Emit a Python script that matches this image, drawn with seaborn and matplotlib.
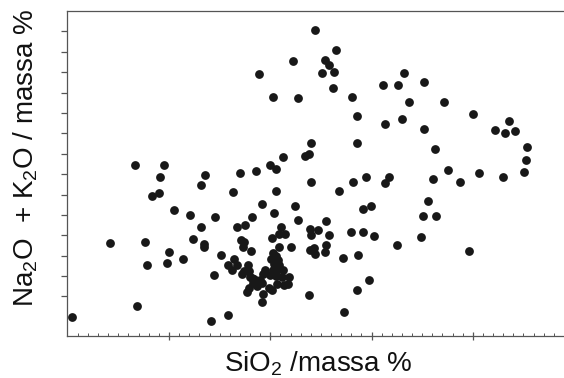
import numpy as np
import pandas as pd
import matplotlib
matplotlib.use("Agg")
import matplotlib.pyplot as plt
from matplotlib.ticker import FixedLocator
import seaborn as sns

# SiO2 (massa %) for each sample
sio2 = [
    40.47, 44.13, 46.64, 46.81, 47.66, 47.86, 48.29, 49.04, 49.11, 49.54,
    49.80, 50.03, 50.49, 51.38, 52.07, 52.40, 53.19, 53.16, 53.45, 53.48,
    53.52, 54.18, 54.47, 54.51, 55.16, 55.79, 56.32, 56.39, 55.85, 56.19,
    56.68, 57.01, 56.71, 57.50, 57.14, 57.43, 57.33, 58.09, 58.22, 58.59,
    59.18, 59.97, 60.56, 60.56, 60.39, 61.28, 61.03, 60.83, 61.42, 60.20,
    60.86, 62.04, 62.47, 62.73, 57.21, 57.37, 57.83, 57.93, 58.00, 58.19,
    58.42, 58.32, 58.66, 57.87, 57.67, 58.98, 59.18, 59.25, 59.48, 59.31,
    59.21, 59.97, 60.24, 60.69, 61.22, 60.56, 61.13, 61.85, 61.75, 61.35,
    60.63, 60.17, 59.84, 60.24, 60.56, 60.07, 60.79, 60.37, 60.89, 63.46,
    63.85, 64.02, 64.05, 63.92, 64.02, 64.74, 63.89, 64.34, 64.44, 63.85,
    65.53, 65.77, 65.50, 65.40, 66.81, 67.15, 67.25, 67.97, 68.19, 68.53,
    68.63, 68.53, 69.12, 69.18, 69.45, 69.71, 69.94, 70.27, 71.32, 71.75,
    72.48, 74.85, 75.07, 75.60, 76.03, 76.29, 76.36, 77.57, 78.73, 79.62,
    80.57, 82.97, 85.07, 85.24, 85.31, 64.41, 66.52, 62.24, 65.43, 65.79,
    65.13, 66.26, 58.91, 66.16, 60.24, 62.70, 68.04, 68.59, 71.16, 72.64,
    73.17, 75.14, 73.69, 77.12, 71.29, 73.00, 75.17, 79.98, 83.53, 82.21,
    83.17, 84.16,
]

# Na2O + K2O (massa %) for each sample
alkali = [
    0.99, 4.62, 8.45, 1.52, 4.69, 3.53, 6.93, 7.08, 7.87, 8.45,
    3.63, 4.17, 6.26, 3.82, 6.01, 4.80, 7.47, 5.43, 4.58, 4.41,
    7.96, 0.81, 3.03, 5.92, 4.01, 1.07, 7.13, 3.84, 3.52, 3.29,
    3.52, 8.06, 5.41, 5.49, 4.79, 4.66, 4.41, 4.22, 5.88, 8.15,
    6.52, 8.43, 8.27, 7.19, 6.11, 8.82, 5.41, 5.07, 5.07, 4.87,
    4.41, 4.41, 6.45, 5.73, 3.11, 3.24, 3.52, 3.24, 2.96, 2.91,
    2.86, 2.67, 2.50, 2.40, 2.23, 2.83, 2.67, 3.08, 3.29, 2.13,
    1.74, 3.03, 3.29, 3.29, 3.29, 2.99, 2.96, 2.93, 2.59, 2.55,
    2.63, 2.34, 2.42, 4.14, 3.97, 3.84, 3.81, 3.61, 3.52, 8.87,
    9.00, 9.55, 7.62, 5.33, 4.99, 5.28, 4.30, 4.38, 4.07, 2.05,
    5.71, 4.99, 4.54, 4.20, 7.17, 3.91, 1.25, 5.15, 7.60, 9.52,
    4.04, 2.31, 5.15, 6.31, 7.84, 2.80, 6.42, 4.95, 7.57, 7.84,
    4.50, 4.90, 5.96, 6.68, 7.78, 9.23, 5.93, 8.18, 7.63, 4.25,
    8.04, 7.84, 8.10, 8.67, 9.33, 15.06, 14.08, 13.57, 13.62, 13.37,
    12.98, 13.02, 12.90, 12.22, 11.76, 11.71, 11.79, 10.85, 12.39, 12.39,
    12.98, 12.53, 11.56, 11.56, 10.46, 10.71, 10.19, 10.96, 10.62, 10.16,
    10.00, 10.13,
]

df = pd.DataFrame({"sio2": sio2, "alkali": alkali})

sns.set_style("white")
plt.rcParams["font.family"] = ["Liberation Sans", "DejaVu Sans"]
plt.rcParams["mathtext.fontset"] = "custom"
plt.rcParams["mathtext.rm"] = "Liberation Sans"
plt.rcParams["mathtext.it"] = "Liberation Sans:italic"

W, H = 564, 378
fig = plt.figure(figsize=(W / 100, H / 100), dpi=100)
ax = fig.add_axes([67 / W, 42 / H, 497 / W, 325 / H])

sns.scatterplot(data=df, x="sio2", y="alkali", s=40, color="#181818",
                linewidth=0, ax=ax, zorder=3)

ax.set_xlim(39.93, 89.0)
ax.set_ylim(0.06, 16.0)

# ticks only, no numbers
ax.xaxis.set_major_locator(FixedLocator([50, 60, 70, 80]))
ax.xaxis.set_minor_locator(FixedLocator(np.arange(41, 89)))
ax.yaxis.set_major_locator(FixedLocator(np.arange(2, 16)))
ax.tick_params(axis="x", which="major", direction="inout", length=6,
               width=0.9, color="#555555", labelbottom=False, bottom=True)
ax.tick_params(axis="x", which="minor", direction="in", length=2,
               width=0.7, color="#555555", bottom=True)
ax.tick_params(axis="y", which="major", direction="out", length=4.5,
               width=0.9, color="#555555", labelleft=False, left=True)

for side in ["left", "bottom", "top"]:
    ax.spines[side].set_color("#555555")
    ax.spines[side].set_linewidth(0.9)
ax.spines["right"].set_visible(False)

ax.set_xlabel("")
ax.set_ylabel("")
fig.text(318 / W, 1 - 372 / H, "SiO$_2$ /massa %", fontsize=20,
         ha="center", va="baseline", color="#111111")
fig.text(33.5 / W, 1 - 157.5 / H, "Na$_2$O  + K$_2$O / massa %", fontsize=20,
         rotation=90, rotation_mode="anchor", ha="center", va="baseline",
         color="#111111")

fig.savefig("out.png", dpi=100)
